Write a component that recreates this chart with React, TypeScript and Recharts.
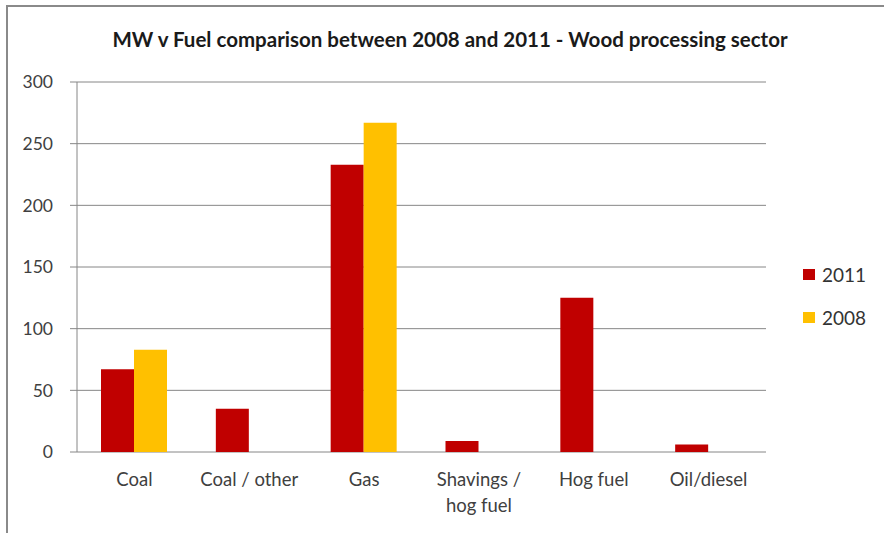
import { BarChart, Bar, XAxis, YAxis, CartesianGrid, Legend } from "recharts";

const fuels = ["Coal", "Coal / other", "Gas", "Shavings /\nhog fuel", "Hog fuel", "Oil/diesel"];
const mw2011 = [67, 35, 233, 9, 125, 6];
const mw2008 = [83, 0, 267, 0, 0, 0];
const yTicks = [0, 50, 100, 150, 200, 250, 300];
const boundaryTicks = [0, 1, 2, 3, 4, 5, 6];

const COLORS = { y2011: "#C00000", y2008: "#FFC000" };
const FONT = "Lato, 'Open Sans', sans-serif";
const TEXT = "#404040";
const GRID = "#868686";

const data = fuels.map((name, i) => ({
  name,
  y2011: mw2011[i],
  y2008: mw2008[i] || null,
}));

function FuelTick(props: any) {
  const { x, y, payload } = props;
  const lines = String(payload.value).split("\n");
  return (
    <text x={x} y={y} textAnchor="middle" fill={TEXT} fontSize={18.5} fontFamily={FONT}>
      {lines.map((line, i) => (
        <tspan key={i} x={x} dy={i === 0 ? "0.71em" : 26}>
          {line}
        </tspan>
      ))}
    </text>
  );
}

function renderLegend() {
  const items = [
    { label: "2011", color: COLORS.y2011 },
    { label: "2008", color: COLORS.y2008 },
  ];
  return (
    <div style={{ fontFamily: FONT, fontSize: 19, color: "#333", whiteSpace: "nowrap", width: 80 }}>
      {items.map((it, i) => (
        <div key={it.label} style={{ display: "flex", alignItems: "center", height: 22, marginTop: i ? 21 : 0 }}>
          <span
            style={{ display: "inline-block", flexShrink: 0, width: 12, height: 11, background: it.color, marginRight: 7 }}
          />
          {it.label}
        </div>
      ))}
    </div>
  );
}

export default function App() {
  return (
    <div style={{ position: "fixed", left: 0, top: 0, width: 884, height: 533, background: "#fff", overflow: "hidden" }}>
      <div
        style={{
          position: "absolute",
          left: 6,
          top: 5,
          width: 900,
          height: 600,
          borderLeft: "2px solid #8a8a8a",
          borderTop: "2px solid #8a8a8a",
        }}
      />
      <div
        style={{
          position: "absolute",
          left: 0,
          top: 27,
          width: 900,
          textAlign: "center",
          fontFamily: FONT,
          fontWeight: 700,
          fontSize: 20.5,
          color: "#1a1a1a",
        }}
      >
        MW v Fuel comparison between 2008 and 2011 - Wood processing sector
      </div>
      <div style={{ position: "absolute", left: 0, top: 0 }}>
        <BarChart
          width={884}
          height={533}
          data={data}
          margin={{ top: 82, right: 118, bottom: 0, left: 17 }}
          barGap={0}
          barSize={33}
        >
          <CartesianGrid vertical={false} stroke={GRID} strokeWidth={1} />
          <XAxis
            xAxisId="edges"
            type="number"
            domain={[0, 6]}
            ticks={boundaryTicks}
            height={0}
            stroke={GRID}
            tickSize={7}
            tickFormatter={() => ""}
            allowDataOverflow
          />
          <XAxis
            dataKey="name"
            interval={0}
            height={81}
            axisLine={false}
            tickLine={false}
            tickSize={0}
            tickMargin={21}
            tick={<FuelTick />}
          />
          <YAxis
            width={60}
            domain={[0, 300]}
            ticks={yTicks}
            stroke={GRID}
            tickSize={7}
            tickMargin={17}
            tick={{ fill: TEXT, fontSize: 17.5, fontFamily: FONT }}
          />
          <Legend
            layout="vertical"
            align="right"
            verticalAlign="middle"
            wrapperStyle={{ left: 803, top: 263, width: 0, height: 0, overflow: "visible" }}
            content={renderLegend}
          />
          <Bar dataKey="y2011" name="2011" fill={COLORS.y2011} isAnimationActive={false} />
          <Bar dataKey="y2008" name="2008" fill={COLORS.y2008} isAnimationActive={false} />
        </BarChart>
      </div>
    </div>
  );
}
